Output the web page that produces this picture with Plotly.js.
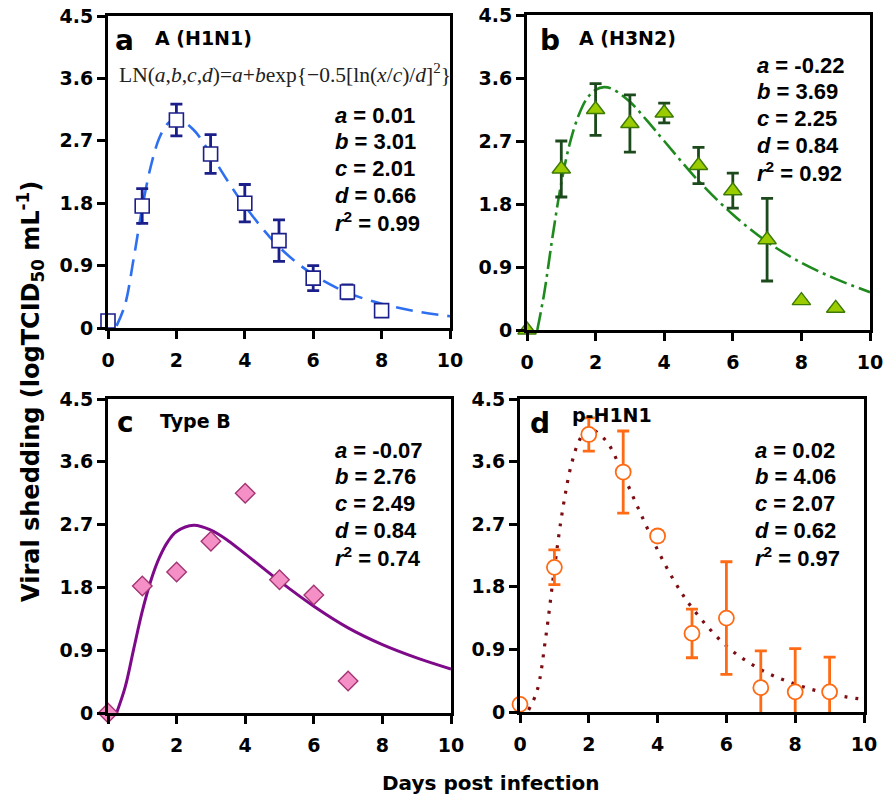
<!DOCTYPE html>
<html>
<head>
<meta charset="utf-8">
<script src="https://cdn.plot.ly/plotly-3.0.1.min.js"></script>
<style>html,body{margin:0;padding:0;background:#fff}#chart{width:884px;height:800px}</style>
</head>
<body>
<div id="chart"></div>
<script>
// ---------- data ----------
const xTicks = [0, 2, 4, 6, 8, 10];
const yTicks = [0, 0.9, 1.8, 2.7, 3.6, 4.5];
const yTickText = ["0", "0.9", "1.8", "2.7", "3.6", "4.5"];

// (a) A (H1N1)
const h1n1Days = [0, 1, 2, 3, 4, 5, 6, 7, 8];
const h1n1Shed = [0.10, 1.76, 3.00, 2.51, 1.80, 1.26, 0.72, 0.52, 0.25];
const h1n1Err  = [0, 0.25, 0.23, 0.28, 0.27, 0.30, 0.18, 0.10, 0];
const fitA_x = [0.25, 0.5, 0.75, 1, 1.25, 1.5, 1.75, 2, 2.5, 3, 3.5, 4, 5, 6, 7, 8, 9, 10];
const fitA_y = [0.03, 0.34, 1.00, 1.73, 2.33, 2.74, 2.95, 3.02, 2.86, 2.51, 2.12, 1.76, 1.17, 0.77, 0.51, 0.35, 0.24, 0.17];
const paramsA = ["0.01", "3.01", "2.01", "0.66", "0.99"];

// (b) A (H3N2)
const h3n2Days = [0, 1, 2, 3, 4, 5, 6, 7, 8, 9];
const h3n2Shed = [0, 2.30, 3.15, 2.95, 3.10, 2.35, 1.99, 1.29, 0.42, 0.31];
const h3n2Err  = [0, 0.40, 0.37, 0.41, 0.14, 0.26, 0.25, 0.59, 0, 0];
const fitB_x = [0.3, 0.5, 0.75, 1, 1.25, 1.5, 1.75, 2, 2.25, 2.5, 3, 3.5, 4, 5, 6, 7, 8, 9, 10];
const fitB_y = [0, 0.52, 1.35, 2.10, 2.67, 3.06, 3.31, 3.43, 3.47, 3.44, 3.26, 2.99, 2.70, 2.13, 1.65, 1.26, 0.96, 0.73, 0.54];
const paramsB = ["-0.22", "3.69", "2.25", "0.84", "0.92"];

// (c) Type B
const typeBDays = [0, 1, 2, 3, 4, 5, 6, 7];
const typeBShed = [0, 1.82, 2.02, 2.46, 3.15, 1.91, 1.69, 0.46];
const fitC_x = [0.25, 0.5, 0.75, 1, 1.25, 1.5, 1.75, 2, 2.5, 3, 3.5, 4, 5, 6, 7, 8, 9, 10];
const fitC_y = [0, 0.37, 0.92, 1.46, 1.90, 2.23, 2.46, 2.60, 2.69, 2.62, 2.47, 2.28, 1.89, 1.53, 1.22, 0.98, 0.79, 0.63];
const paramsC = ["-0.07", "2.76", "2.49", "0.84", "0.74"];

// (d) p-H1N1
const pH1N1Days = [0, 1, 2, 3, 4, 5, 6, 7, 8, 9];
const pH1N1Shed = [0.11, 2.08, 3.99, 3.45, 2.53, 1.13, 1.35, 0.35, 0.29, 0.29];
const pH1N1Err  = [0.06, 0.25, 0.24, 0.59, 0.07, 0.35, 0.81, 0.53, 0.62, 0.50];
const fitD_x = [0.25, 0.5, 0.75, 1, 1.25, 1.5, 1.75, 2, 2.5, 3, 3.5, 4, 4.5, 5, 6, 7, 8, 9, 10];
const fitD_y = [0.03, 0.31, 1.08, 2.06, 2.94, 3.57, 3.93, 4.07, 3.90, 3.41, 2.86, 2.33, 1.87, 1.50, 0.95, 0.61, 0.40, 0.26, 0.18];
const paramsD = ["0.02", "4.06", "2.07", "0.62", "0.97"];

const panelLetters = ["a", "b", "c", "d"];
const panelNames = ["A (H1N1)", "A (H3N2)", "Type B", "p-H1N1"];
const paramNames = ["<i>a</i>", "<i>b</i>", "<i>c</i>", "<i>d</i>", "<i>r</i><sup>2</sup>"];

// ---------- traces ----------
const SANS = "DejaVu Sans, Arial, sans-serif";
const ARIAL = "Liberation Sans, Arial, sans-serif";
function fitTrace(x, y, xa, ya, color, dash, width) {
  return {x: x, y: y, xaxis: xa, yaxis: ya, type: "scatter", mode: "lines",
          line: {color: color, dash: dash, width: width, shape: "spline"},
          hoverinfo: "skip", showlegend: false};
}
function pointTrace(x, y, err, xa, ya, marker, errColor, errW) {
  const t = {x: x, y: y, xaxis: xa, yaxis: ya, type: "scatter", mode: "markers",
             marker: marker, cliponaxis: false, showlegend: false};
  if (err) t.error_y = {type: "data", array: err, visible: true, color: errColor, thickness: errW, width: 6};
  return t;
}

const traces = [
  fitTrace(fitA_x, fitA_y, "x", "y", "#2e6ff2", "17px,9px", 2.6),
  pointTrace(h1n1Days, h1n1Shed, h1n1Err, "x", "y",
    {symbol: "square", size: 14, color: "#ffffff", line: {color: "#1b1f8a", width: 1.6}}, "#1b1f8a", 2.8),

  fitTrace(fitB_x, fitB_y, "x2", "y2", "#1e8a1e", "18px,5px,3px,5px", 2.6),
  pointTrace(h3n2Days, h3n2Shed, h3n2Err, "x2", "y2",
    {symbol: "triangle-up", size: 16, color: "#9bcc00", line: {color: "#3d7a05", width: 1.4}}, "#1d4a1d", 2.8),

  fitTrace(fitC_x, fitC_y, "x3", "y3", "#7e0a8a", "solid", 3),
  pointTrace(typeBDays, typeBShed, null, "x3", "y3",
    {symbol: "diamond", size: 15, color: "#f590c6", line: {color: "#a23474", width: 1.4}}, null, 0),

  fitTrace(fitD_x, fitD_y, "x4", "y4", "#7c0d12", "3px,8px", 3.2),
  pointTrace(pH1N1Days, pH1N1Shed, pH1N1Err, "x4", "y4",
    {symbol: "circle", size: 15, color: "#ffffff", line: {color: "#ff6a14", width: 1.8}}, "#ff6a14", 2.8)
];

// ---------- layout ----------
const W = 884, H = 800;
function X(px) { return px / W; }
function Y(py) { return 1 - py / H; }

function xAxis(dom, anchor) {
  return {domain: dom, anchor: anchor, range: [0, 10], tickvals: xTicks, ticktext: xTicks.map(String),
          showline: true, linewidth: 3, linecolor: "#000", mirror: true,
          ticks: "outside", ticklen: 8, tickwidth: 3, tickcolor: "#000", ticklabelstandoff: 5,
          tickfont: {family: SANS, size: 19, color: "#000", weight: "bold"},
          showgrid: false, zeroline: false, fixedrange: true};
}
function yAxis(dom, anchor) {
  return {domain: dom, anchor: anchor, range: [0, 4.5], tickvals: yTicks, ticktext: yTickText,
          showline: true, linewidth: 3, linecolor: "#000", mirror: true,
          ticks: "outside", ticklen: 8, tickwidth: 3, tickcolor: "#000", ticklabelstandoff: 0,
          tickfont: {family: SANS, size: 19, color: "#000", weight: "bold"},
          showgrid: false, zeroline: false, fixedrange: true};
}

const annotations = [];
function ann(text, px, py, size, opts) {
  annotations.push(Object.assign({text: text, xref: "paper", yref: "paper", x: X(px), y: Y(py),
    showarrow: false, xanchor: "left", yanchor: "middle",
    font: {family: SANS, size: size, color: "#000"}}, opts || {}));
}

// panel letters and names
const letterPos = [[113, 40], [538, 40], [115, 422], [528, 423]];
const namePos = [[153, 38], [577, 38], [158, 421], [570, 415]];
for (let i = 0; i < 4; i++) {
  ann("<b>" + panelLetters[i] + "</b>", letterPos[i][0], letterPos[i][1], 28);
  ann("<b>" + panelNames[i] + "</b>", namePos[i][0], namePos[i][1], 19);
}

// parameter blocks
const paramSets = [paramsA, paramsB, paramsC, paramsD];
const paramLeft = [333, 755, 333, 753];
const paramTop = [115, 65, 450, 450];
for (let i = 0; i < 4; i++) {
  for (let k = 0; k < 5; k++) {
    ann("<b>" + paramNames[k] + " = " + paramSets[i][k] + "</b>", paramLeft[i], paramTop[i] + k * 26.7, 22,
        {font: {family: ARIAL, size: 22, color: "#000"}});
  }
}

// model formula
ann("LN(<i>a</i>,<i>b</i>,<i>c</i>,<i>d</i>)=<i>a</i>+<i>b</i>exp{−0.5[ln(<i>x</i>/<i>c</i>)/<i>d</i>]<sup>2</sup>}",
    117, 73, 21.5, {font: {family: "Liberation Serif, Times New Roman, serif", size: 21.5, color: "#222"}});

// axis titles
ann("<b>Viral shedding (logTCID<sub>50</sub> mL<sup>-1</sup>)</b>", 30, 392, 24, {xanchor: "center", textangle: -90});
ann("<b>Days post infection</b>", 490, 783, 20, {xanchor: "center"});

const layout = {
  width: W, height: H,
  margin: {l: 0, r: 0, t: 0, b: 0},
  paper_bgcolor: "#fff", plot_bgcolor: "#fff",
  showlegend: false,
  xaxis:  xAxis([X(108), X(450)], "y"),
  yaxis:  yAxis([Y(328), Y(16)], "x"),
  xaxis2: xAxis([X(527), X(870)], "y2"),
  yaxis2: yAxis([Y(330), Y(15)], "x2"),
  xaxis3: xAxis([X(108), X(451)], "y3"),
  yaxis3: yAxis([Y(713), Y(399)], "x3"),
  xaxis4: xAxis([X(520), X(864)], "y4"),
  yaxis4: yAxis([Y(712), Y(399)], "x4"),
  annotations: annotations
};

Plotly.newPlot("chart", traces, layout, {staticPlot: true, displayModeBar: false});
</script>
</body>
</html>
